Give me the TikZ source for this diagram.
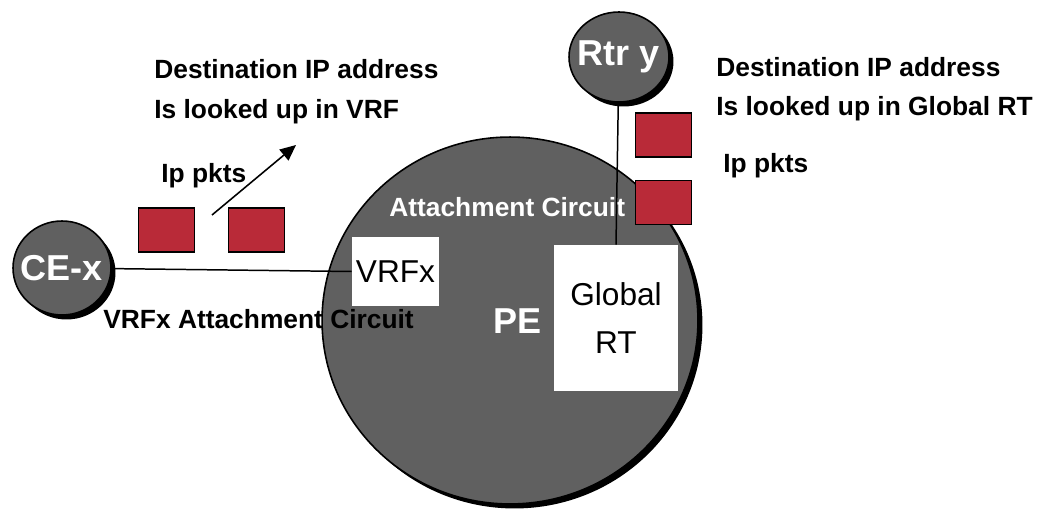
\documentclass[tikz,border=0pt]{standalone}
\usepackage{fontspec}
\setmainfont{Liberation Sans}
\usetikzlibrary{shapes.geometric,shadows,arrows.meta}

\definecolor{routergray}{RGB}{96,96,96}
\definecolor{pktred}{RGB}{185,42,56}

\tikzset{
  router/.style={ellipse, draw=black, line width=0.9pt, fill=routergray, inner sep=0pt,
    drop shadow={shadow xshift=0.09cm, shadow yshift=-0.09cm, fill=black, opacity=1}},
  routername/.style={text=white, inner sep=0pt, font=\bfseries\fontsize{20.5}{22}\selectfont},
  tablebox/.style={fill=white, inner sep=0pt, font=\fontsize{18}{27}\selectfont, align=center},
  pkt/.style={draw=black, line width=0.9pt, fill=pktred, inner sep=0pt,
    minimum width=1.12cm, minimum height=0.88cm},
  lbl/.style={inner sep=0pt, anchor=base west, font=\bfseries\fontsize{15}{15}\selectfont},
}

\begin{document}
\begin{tikzpicture}[x=0.02cm, y=-0.02cm]
    \useasboundingbox (0,0) rectangle (1038,513);

    % PE router
    \node[router, minimum width=7.52cm, minimum height=7.34cm] (pe) at (510,320.5) {};
    \node[lbl, text=white, font=\bfseries\fontsize{20.5}{22}\selectfont] (pelbl) at (493,334) {PE};
    \node[lbl, text=white] (aclbl) at (389,217) {Attachment Circuit};

    % CE and remote router
    \node[router, minimum width=1.96cm, minimum height=1.88cm,
      label={[routername]center:CE-x}] (cex) at (62,268) {};
    \node[router, minimum width=2cm, minimum height=1.8cm,
      label={[routername]center:Rtr y}] (rtry) at (619,57) {};

    % Tables inside PE
    \node[tablebox, minimum width=1.74cm, minimum height=1.38cm] (vrfx) at (395.5,271.5) {VRFx};
    \node[tablebox, minimum width=2.48cm, minimum height=2.92cm] (globalrt) at (616,318) {Global\\RT};

    % Links
    \draw[line width=0.85pt] (cex) -- (vrfx.west);
    \draw[line width=0.85pt] (rtry) -- (globalrt.north);
    \node[lbl] (vrfxac) at (103,328) {VRFx Attachment Circuit};

    % Packets
    \node[pkt] (pkta) at (166.5,230) {};
    \node[pkt] (pktb) at (256.5,230) {};
    \node[pkt] (pktc) at (663.5,135) {};
    \node[pkt] (pktd) at (663.5,202.5) {};
    \coordinate (flowstart) at (212,215);
    \coordinate (flowend) at (296,145);
    \draw[line width=0.9pt, -{Triangle[length=9pt,width=8pt]}] (flowstart) -- (flowend);

    % Lookup notes
    \node[lbl] (vrfnote1) at (154,79) {Destination IP address};
    \node[lbl] (vrfnote2) at (154,119) {Is looked up in VRF};
    \node[lbl] (pktsl) at (161,183) {Ip pkts};
    \node[lbl] (rtnote1) at (716,77) {Destination IP address};
    \node[lbl] (rtnote2) at (716,116) {Is looked up in Global RT};
    \node[lbl] (pktsr) at (723,173) {Ip pkts};
\end{tikzpicture}
\end{document}
